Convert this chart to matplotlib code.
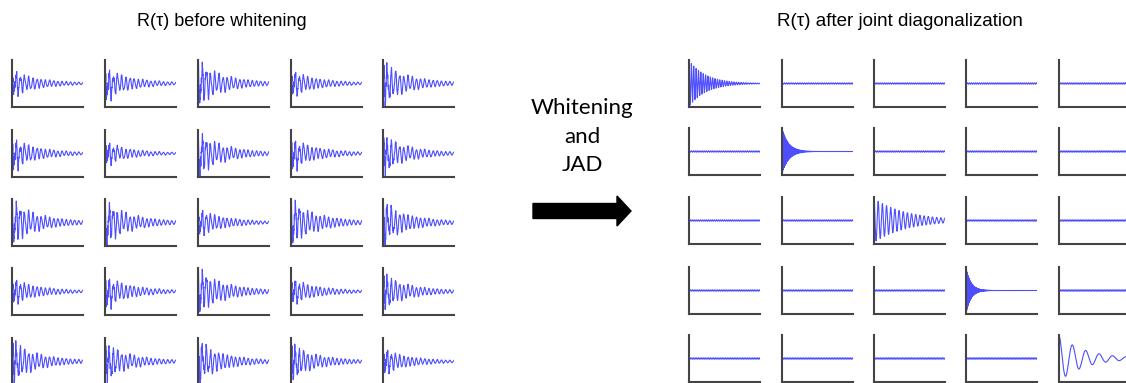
import numpy as np
import matplotlib
matplotlib.use("Agg")
import matplotlib.pyplot as plt
from matplotlib.patches import FancyArrow

W, H = 1126, 383

src_cycles = [30, 75, 17, 150, 5.3]   # oscillations across the window
src_decay = [4.2, 11.0, 2.2, 15.0, 2.8]
src_amp = [1.0, 1.0, 0.95, 1.0, 1.0]

# mixing matrix used for the "before whitening" panels
mixing = [[0.6, 0.55, 0.9, 0.5, 0.3],
          [0.5, 0.6, 0.8, -0.5, 0.4],
          [0.6, -0.55, 1.0, 0.55, -0.3],
          [0.4, 0.6, 0.9, 0.5, 0.4],
          [-0.5, 0.55, 0.9, 0.6, 0.3]]

# residual ripple on the off-diagonal panels after JAD
ripple_amp = 0.03
ripple_cycles = 30

left_x = [12, 105, 198, 291, 383]
left_top = [60, 130, 199, 268, 338]
right_x = [689, 782, 874, 966, 1059]
right_top = [60, 128, 197, 267, 335]
pw, ph = 71, 47

tau = np.linspace(0, 1, 2000)
src = np.array([a * np.exp(-d * tau) * np.cos(2 * np.pi * c * tau)
                for a, c, d in zip(src_amp, src_cycles, src_decay)])
A = np.array(mixing)

fig = plt.figure(figsize=(W / 100, H / 100), dpi=100)

# overlay for titles, text and arrow
ov = fig.add_axes([0, 0, 1, 1])
ov.set_xlim(0, W)
ov.set_ylim(H, 0)
ov.axis("off")
ov.text(222, 22, "R(\u03c4) before whitening", ha="center", va="center",
        fontsize=13, family="Liberation Sans")
ov.text(900, 22, "R(\u03c4) after joint diagonalization", ha="center", va="center",
        fontsize=13.5, family="Liberation Sans")
for y, s in zip([108, 137, 165], ["Whitening", "and", "JAD"]):
    ov.text(582, y, s, ha="center", va="center", fontsize=16, family="Lato")
ov.add_patch(FancyArrow(533, 211, 98, 0, width=15, head_width=30, head_length=14,
                        length_includes_head=True, color="black"))


def panel(x0, top, y):
    ax = fig.add_axes([x0 / W, 1 - (top + ph) / H, pw / W, ph / H])
    ax.plot(tau, y, color="#2222ff", lw=0.8, alpha=0.8)
    ax.set_xlim(0, 1)
    ax.set_ylim(-1.02, 1.02)
    ax.set_xticks([])
    ax.set_yticks([])
    for s in ["top", "right"]:
        ax.spines[s].set_visible(False)
    for s in ["left", "bottom"]:
        ax.spines[s].set_color("#444444")
        ax.spines[s].set_linewidth(1.5)
    ax.patch.set_alpha(0)


for i in range(5):
    for j in range(5):
        y = (A[i] * A[j]) @ src
        y = y / np.abs(y).max()
        panel(left_x[j], left_top[i], y)

        if i == j:
            r = src[i]
        else:
            r = ripple_amp * np.sin(2 * np.pi * (ripple_cycles + 3 * i + 2 * j) * tau + i + j)
        panel(right_x[j], right_top[i], r)

fig.savefig("out.png", dpi=100)
